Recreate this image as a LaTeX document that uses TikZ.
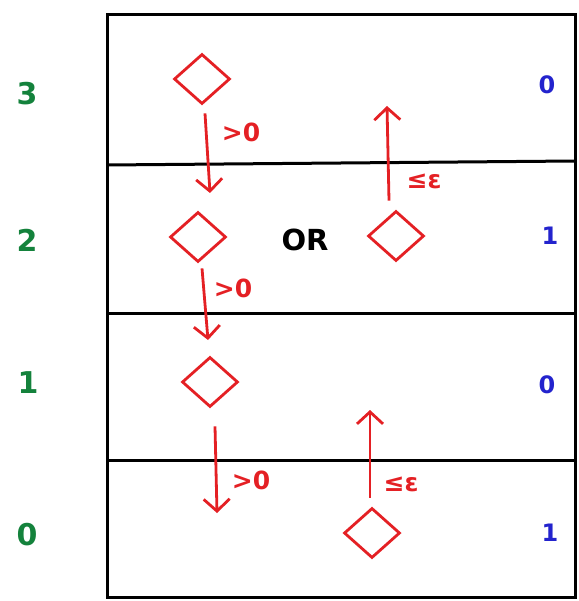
\documentclass[tikz,border=0pt]{standalone}
\usepackage{fontspec}
\setmainfont{DejaVu Sans}
\usetikzlibrary{shapes.geometric,arrows.meta}
\definecolor{myred}{RGB}{228,32,36}
\definecolor{mygreen}{RGB}{20,130,60}
\definecolor{myblue}{RGB}{35,35,205}
\tikzset{
  frame/.style={line width=3pt,black},
  state/.style={diamond,draw=myred,line width=2.8pt,minimum width=56pt,minimum height=50pt,inner sep=0pt},
  move/.style={myred,line width=2.8pt,-{Straight Barb[length=12pt,width=26pt,line width=2.8pt]}},
  lab/.style={myred,font=\fontsize{25}{25}\selectfont\bfseries,inner sep=0pt},
  lvl/.style={mygreen,font=\fontsize{30}{30}\selectfont\bfseries,inner sep=0pt},
  par/.style={myblue,font=\fontsize{24}{24}\selectfont\bfseries,inner sep=0pt},
}
\begin{document}
\begin{tikzpicture}[x=1pt,y=-1pt]
\useasboundingbox (0,0) rectangle (578,601);
% frame
\draw[frame] (107,15) rectangle (575,597);
\draw[frame] (107,165) -- (575,161);
\draw[frame] (107,313) -- (575,313);
\draw[frame] (107,460) -- (575,460);
% states
\node[state] (d3) at (202,79) {};
\node[state] (d2a) at (198,237) {};
\node[state] (d2b) at (396,236) {};
\node[state] (d1) at (210,382) {};
\node[state] (d0) at (372,533) {};
% free ends
\coordinate (e3) at (210,193);
\coordinate (e2) at (208,340);
\coordinate (e1) at (217,513);
\coordinate (u2) at (387,106);
\coordinate (u0) at (370,410);
% moves
\draw[move] ([xshift=3pt,yshift=-8pt]d3.south) -- (e3);
\draw[move] ([xshift=4pt,yshift=-5pt]d2a.south) -- (e2);
\draw[move] ([xshift=5pt,yshift=-18pt]d1.south) -- (e1);
\draw[move] ([xshift=-7pt,yshift=9pt]d2b.north) -- (u2);
\draw[move] ([xshift=-2pt,yshift=9pt]d0.north) -- (u0);
% labels
\node[lab] at (241,132) {>0};
\node[lab] at (233,288) {>0};
\node[lab] at (251,480) {>0};
\node[lab] at (424,181) {≤ε};
\node[lab] at (401,484) {≤ε};
\node[font=\fontsize{29}{29}\selectfont\bfseries,inner sep=0pt] (or) at (305,240) {OR};
% level numbers
\node[lvl] (l3) at (27,94) {3};
\node[lvl] (l2) at (27,240) {2};
\node[lvl] (l1) at (28,383) {1};
\node[lvl] (l0) at (27,535) {0};
% parities
\node[par] (p3) at (547,85) {0};
\node[par] (p2) at (550,236) {1};
\node[par] (p1) at (547,385) {0};
\node[par] (p0) at (550,533) {1};
\end{tikzpicture}
\end{document}
